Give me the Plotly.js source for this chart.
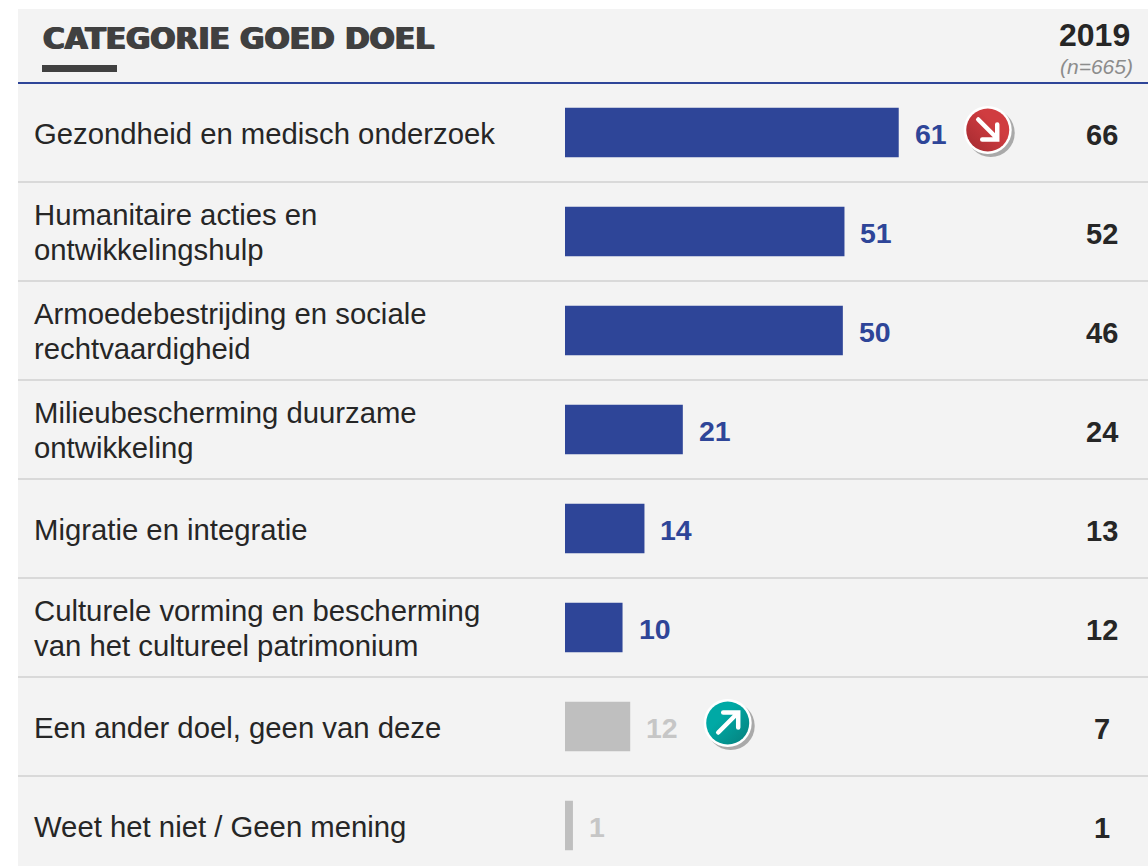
<!DOCTYPE html>
<html><head><meta charset="utf-8">
<script src="https://cdn.plot.ly/plotly-3.0.1.min.js"></script>
<style>html,body{margin:0;padding:0;background:#fff}#c{width:1148px;height:866px}</style>
</head><body><div id="c"></div>
<script>
const categories = [
  "Gezondheid en medisch onderzoek",
  "Humanitaire acties en\nontwikkelingshulp",
  "Armoedebestrijding en sociale\nrechtvaardigheid",
  "Milieubescherming duurzame\nontwikkeling",
  "Migratie en integratie",
  "Culturele vorming en bescherming\nvan het cultureel patrimonium",
  "Een ander doel, geen van deze",
  "Weet het niet / Geen mening"
];
const barValues = [60.9, 51.0, 50.7, 21.5, 14.5, 10.5, 11.9, 1.45];
const labels2020 = ["61", "51", "50", "21", "14", "10", "12", "1"];
const values2019 = ["66", "52", "46", "24", "13", "12", "7", "1"];
const isOther = [false, false, false, false, false, false, true, true];
const trendIcons = [{row: 0, dir: "down"}, {row: 6, dir: "up"}];
const titleText = "CATEGORIE GOED DOEL";
const yearText = "2019";
const nText = "(n=665)";

const W = 1148, H = 866;
const BLUE = "#2e4598", GREY = "#bfbfbf", LABELGREY = "#c6c6c6", DARK = "#262626", FONT = "Liberation Sans, Arial, sans-serif";
const PX_PER_UNIT = 5.48, BAR_X0 = 565, TOP = 83, ROW = 99, ROW0 = 132.5;
const px = x => x / W, py = y => 1 - y / H;

function icon(dir) {
  const down = dir === "down";
  const c1 = down ? "#d03c40" : "#00a9a5", c2 = down ? "#a32a30" : "#067f7c";
  const arrow = down
    ? '<path d="M15 14 L34 33 M34 19 L34 34 L19 34" />'
    : '<path d="M15 34 L34 15 M20 14 L35 14 L35 29" />';
  const svg = '<svg xmlns="http://www.w3.org/2000/svg" width="54" height="54" viewBox="0 0 54 54">' +
    '<defs><linearGradient id="g" x1="' + (down ? '1' : '0') + '" y1="0" x2="' + (down ? '0' : '1') + '" y2="1">' +
    '<stop offset="0.35" stop-color="' + c1 + '"/><stop offset="1" stop-color="' + c2 + '"/></linearGradient></defs>' +
    '<circle cx="27.5" cy="27.5" r="24" fill="#a9a9a9"/>' +
    '<circle cx="24.5" cy="24.5" r="24" fill="#fff"/>' +
    '<circle cx="24.5" cy="24.5" r="21.5" fill="url(#g)"/>' +
    '<g fill="none" stroke="#fff" stroke-width="4.5" stroke-linecap="round" stroke-linejoin="miter">' + arrow + '</g></svg>';
  return "data:image/svg+xml;base64," + btoa(svg);
}

const rowsY = categories.map((_, i) => i);
const colors = isOther.map(o => o ? GREY : BLUE);
const annotations = [];
function note(o) { annotations.push(Object.assign({showarrow: false, xref: "paper", yref: "paper", align: "left"}, o)); }

categories.forEach((c, i) => {
  const lines = c.split("\n");
  lines.forEach((ln, k) => {
    const shift = lines.length === 2 ? (k === 0 ? 17.5 : -17.5) : 0;
    note({text: ln, x: px(32), xanchor: "left", y: i, yref: "y", yanchor: "middle", yshift: shift - 0.5,
      font: {family: FONT, size: 29.3, color: DARK}});
  });
  note({text: labels2020[i], x: barValues[i], xref: "x", xanchor: "left", xshift: 14, y: i, yref: "y", yanchor: "middle", yshift: -1,
    font: {family: FONT, size: 28.5, color: isOther[i] ? LABELGREY : BLUE, weight: 700}});
  note({text: values2019[i], x: px(1102), xanchor: "center", y: i, yref: "y", yanchor: "middle", yshift: -2,
    font: {family: FONT, size: 29, color: DARK, weight: 700}});
});
note({text: titleText, x: px(41), xanchor: "left", y: py(38), yanchor: "middle",
  font: {family: "DejaVu Sans, sans-serif", size: 29.7, color: "#404040", weight: 700, shadow: "1px 0 0 #404040, -1px 0 0 #404040"}});
note({text: yearText, x: px(1094.5), xanchor: "center", y: py(35), yanchor: "middle",
  font: {family: FONT, size: 32, color: DARK, weight: 700}});
note({text: nText, x: px(1096), xanchor: "center", y: py(67), yanchor: "middle",
  font: {family: FONT, size: 21, color: "#8c8c8c", style: "italic"}});

const paperRect = (x0, y0, x1, y1, color, layer) => ({type: "rect", xref: "paper", yref: "paper", x0: px(x0), x1: px(x1), y0: py(y0), y1: py(y1), fillcolor: color, line: {width: 0}, layer: layer || "below"});
const shapes = [
  paperRect(18, 9, W, H, "#f3f3f3"),
  paperRect(42, 65, 117, 72, "#404040"),
  paperRect(18, 82, W, 84, BLUE)
];
categories.slice(1).forEach((_, i) => {
  const y = ROW0 + ROW * (i + 0.5);
  shapes.push(paperRect(18, y - 1, W, y + 1, "#d9d9d9"));
});

const images = trendIcons.map((t, k) => ({
  source: icon(t.dir), xref: "x", yref: "y",
  x: barValues[t.row] + [64.5, 73][k] / PX_PER_UNIT, y: t.row + [0, -1][k] / ROW,
  sizex: 54 / PX_PER_UNIT, sizey: 54 / ROW, xanchor: "left", yanchor: "middle",
  sizing: "contain", layer: "above"
}));

Plotly.newPlot("c", [{
  type: "bar", orientation: "h", x: barValues, y: rowsY, width: 0.5,
  marker: {color: colors, line: {width: 0}}, hoverinfo: "skip", showlegend: false
}], {
  width: W, height: H, margin: {l: 0, r: 0, t: 0, b: 0, pad: 0},
  paper_bgcolor: "#fff", plot_bgcolor: "rgba(0,0,0,0)", showlegend: false,
  xaxis: {visible: false, domain: [px(BAR_X0), 1], range: [0, (W - BAR_X0) / PX_PER_UNIT], fixedrange: true},
  yaxis: {visible: false, domain: [0, py(TOP)], range: [(H - ROW0) / ROW, (TOP - ROW0) / ROW], fixedrange: true},
  shapes, annotations, images
}, {displayModeBar: false, staticPlot: true});
</script></body></html>
